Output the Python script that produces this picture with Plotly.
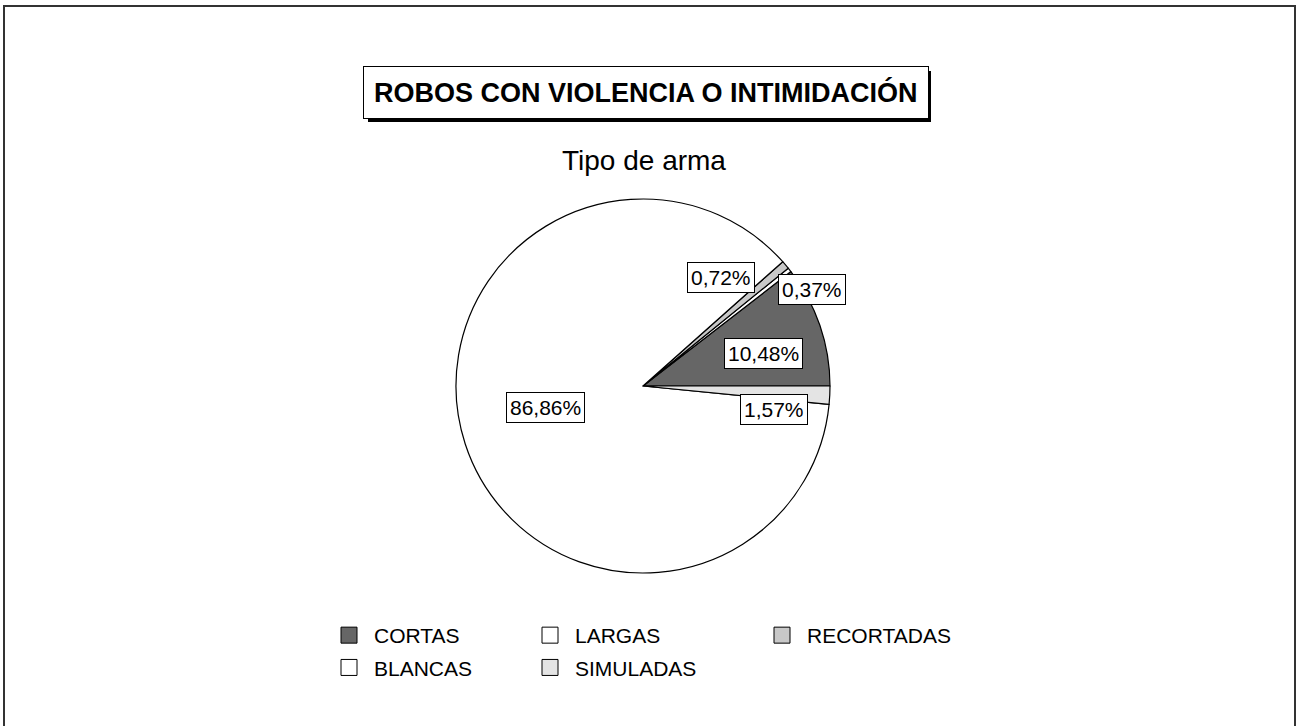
import math
import plotly.graph_objects as go

# ---- data ----
categories = ["CORTAS", "LARGAS", "RECORTADAS", "BLANCAS", "SIMULADAS"]
values = [10.48, 0.37, 0.72, 86.86, 1.57]
label_texts = ["10,48%", "0,37%", "0,72%", "86,86%", "1,57%"]

# ---- styles / layout ----
colors = ["#666666", "#ffffff", "#c8c8c8", "#ffffff", "#e4e4e4"]
W, H = 1297, 726
PIE_CX, PIE_CY, PIE_R = 643, 386, 187
# label placement (radius fraction, angle nudge in degrees)
LABEL_RADIUS = [0.67, 1.04, 0.716, 0.536, 0.712]
LABEL_NUDGE = [-3.6, -8.8, 14.0, -5.4, -7.4]
LEGEND_X = [324, 525, 757]
TITLE_BOX = (364, 927, 67, 118)   # x0, x1, y0, y1 in pixels
SHADOW = 4
FONT = "Liberation Sans, Arial, sans-serif"

total = sum(values)
# plotly: counterclockwise pies put the first slice clockwise of `rotation`;
# rotate so that the first slice starts at 3 o'clock and runs counterclockwise
rotation = 90 - 360.0 * values[0] / total

fig = go.Figure()
fig.add_trace(go.Pie(
    labels=categories, values=values, sort=False,
    direction="counterclockwise", rotation=rotation,
    marker=dict(colors=colors, line=dict(color="#000000", width=1.2)),
    textinfo="none", hoverinfo="label+percent", showlegend=False,
    domain=dict(x=[(PIE_CX - PIE_R) / W, (PIE_CX + PIE_R) / W],
                y=[1 - (PIE_CY + PIE_R) / H, 1 - (PIE_CY - PIE_R) / H]),
))

# legend entries (3 columns, row-major)
for i, (name, col) in enumerate(zip(categories, colors)):
    lg = ["legend", "legend2", "legend3"][i % 3]
    fig.add_trace(go.Scatter(
        x=[None], y=[None], mode="markers", name=name,
        marker=dict(symbol="square", size=16, color=col,
                    line=dict(color="#000000", width=1)),
        legend=lg, legendgroup=name, showlegend=True,
    ))

# percentage labels
cum = 0.0
annotations = []
for i, v in enumerate(values):
    mid = 360.0 * (cum + v / 2) / total
    cum += v
    ang = math.radians(mid + LABEL_NUDGE[i])
    px = PIE_CX + LABEL_RADIUS[i] * PIE_R * math.cos(ang)
    py = PIE_CY - LABEL_RADIUS[i] * PIE_R * math.sin(ang)
    annotations.append(dict(
        x=px / W, y=1 - py / H, xref="paper", yref="paper",
        xanchor="center", yanchor="middle",
        text=label_texts[i], showarrow=False,
        font=dict(family=FONT, size=21, color="#000000"),
        bgcolor="#ffffff", bordercolor="#000000", borderwidth=1, borderpad=3,
    ))

tx0, tx1, ty0, ty1 = TITLE_BOX
annotations.append(dict(
    x=(tx0 + tx1) / 2 / W, y=1 - (ty0 + ty1) / 2 / H, xref="paper", yref="paper",
    xanchor="center", yanchor="middle",
    text="<b>ROBOS CON VIOLENCIA O INTIMIDACIÓN</b>", showarrow=False,
    font=dict(family=FONT, size=27, color="#000000"),
    bgcolor="#ffffff", bordercolor="#000000", borderwidth=1, borderpad=10,
))
annotations.append(dict(
    x=643.5 / W, y=1 - 160 / H, xref="paper", yref="paper",
    xanchor="center", yanchor="middle",
    text="Tipo de arma", showarrow=False,
    font=dict(family=FONT, size=28, color="#000000"),
))

legend_common = dict(
    orientation="v", yanchor="top", xanchor="left",
    font=dict(family=FONT, size=21, color="#000000"),
    bgcolor="rgba(0,0,0,0)", borderwidth=0, tracegroupgap=2,
    itemwidth=40, itemclick=False, itemdoubleclick=False,
)

shapes = [
    # outer frame
    dict(type="rect", xref="paper", yref="paper",
         x0=4 / W, x1=1295 / W, y0=-0.05, y1=1 - 6 / H,
         line=dict(color="#333333", width=2), layer="below"),
    # title drop shadow
    dict(type="rect", xref="paper", yref="paper",
         x0=(tx0 + SHADOW) / W, x1=(tx1 + SHADOW) / W,
         y0=1 - (ty1 + SHADOW) / H, y1=1 - (ty0 + SHADOW) / H,
         fillcolor="#000000", line=dict(color="#000000", width=0), layer="above"),
]

fig.update_layout(
    width=W, height=H,
    margin=dict(l=0, r=0, t=0, b=0),
    paper_bgcolor="#ffffff", plot_bgcolor="#ffffff",
    xaxis=dict(visible=False), yaxis=dict(visible=False),
    annotations=annotations,
    shapes=shapes,
    legend=dict(x=LEGEND_X[0] / W, y=1 - 615 / H, **legend_common),
    legend2=dict(x=LEGEND_X[1] / W, y=1 - 615 / H, **legend_common),
    legend3=dict(x=LEGEND_X[2] / W, y=1 - 615 / H, **legend_common),
)

fig.write_html("out.html", config={"displayModeBar": False},
               post_script="document.body.style.margin='0';document.body.style.overflow='hidden';")
